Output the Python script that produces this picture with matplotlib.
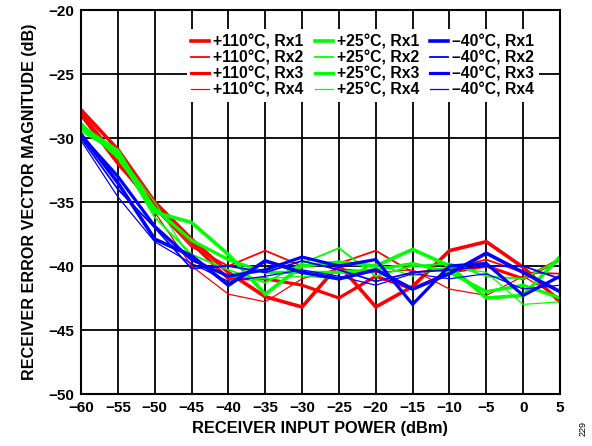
import matplotlib
matplotlib.use("Agg")
import matplotlib.pyplot as plt

plt.rcParams['font.family'] = ['Liberation Sans', 'DejaVu Sans']
plt.rcParams['font.weight'] = 'bold'

# input power (dBm)
power = [-60, -55, -50, -45, -40, -35, -30, -25, -20, -15, -10, -5, 0, 5]

# EVM (dB), +110 C
hot_rx1 = [-27.8, -30.9, -35.0, -37.9, -40.5, -42.4, -43.2, -39.9, -43.2, -41.6, -38.8, -38.1, -40.1, -42.8]
hot_rx2 = [-28.0, -31.5, -35.5, -38.5, -40.0, -38.8, -40.0, -39.8, -38.8, -40.5, -40.2, -39.5, -40.5, -40.6]
hot_rx3 = [-28.2, -32.0, -35.3, -38.2, -41.0, -41.0, -41.5, -42.5, -40.8, -41.8, -40.5, -40.0, -41.0, -39.5]
hot_rx4 = [-27.9, -31.8, -35.8, -40.0, -42.2, -42.8, -41.0, -40.2, -40.5, -40.3, -41.8, -42.3, -40.8, -42.5]

# +25 C
room_rx1 = [-29.1, -31.0, -35.8, -36.6, -39.1, -42.2, -40.0, -39.7, -40.0, -38.7, -40.0, -42.5, -42.3, -39.3]
room_rx2 = [-29.3, -31.3, -36.2, -39.1, -40.3, -41.3, -39.8, -38.6, -40.8, -40.0, -39.8, -40.8, -41.0, -39.5]
room_rx3 = [-28.9, -31.5, -35.5, -38.0, -39.5, -40.5, -40.5, -40.5, -40.3, -39.8, -40.5, -42.0, -41.5, -42.5]
room_rx4 = [-29.5, -31.2, -35.0, -39.5, -40.8, -41.0, -40.8, -41.0, -39.8, -40.8, -40.0, -40.5, -43.0, -42.8]

# -40 C
cold_rx1 = [-29.7, -33.5, -37.9, -39.2, -41.5, -39.6, -40.5, -41.0, -40.3, -41.8, -40.6, -39.0, -40.5, -42.0]
cold_rx2 = [-30.0, -34.0, -37.0, -40.2, -40.0, -40.5, -39.6, -40.3, -41.2, -40.5, -40.3, -40.0, -40.0, -41.0]
cold_rx3 = [-29.8, -33.0, -36.9, -39.5, -40.8, -40.3, -39.3, -40.0, -39.5, -43.0, -40.0, -39.8, -42.3, -40.8]
cold_rx4 = [-30.2, -34.6, -38.1, -39.8, -41.2, -40.8, -40.3, -40.8, -41.5, -40.6, -41.0, -40.6, -41.8, -41.5]

temps = ['+110°C', '+25°C', '\u201340°C']
colors = ['#ff0000', '#00ff00', '#0000ff']
widths = [2.6, 1.3, 2.3, 0.9]
series = [
    [hot_rx1, hot_rx2, hot_rx3, hot_rx4],
    [room_rx1, room_rx2, room_rx3, room_rx4],
    [cold_rx1, cold_rx2, cold_rx3, cold_rx4],
]

fig = plt.figure(figsize=(5.92, 4.46), dpi=100)
ax = fig.add_axes([81 / 592, 52 / 446, 479 / 592, 384 / 446])

for t, c, group in zip(temps, colors, series):
    for i, vals in enumerate(group):
        ax.plot(power, vals, color=c, lw=widths[i], label=f'{t}, Rx{i + 1}',
                solid_joinstyle='miter')

ax.set_xlim(-60, 5)
ax.set_ylim(-50, -20)
ax.set_xticks(range(-60, 6, 5))
ax.set_yticks(range(-50, -19, 5))
ax.grid(True, color='black', lw=1.3)
ax.tick_params(length=0, labelsize=11, pad=5)
for s in ax.spines.values():
    s.set_linewidth(1.5)

ax.set_xlabel('RECEIVER INPUT POWER (dBm)', fontsize=11.8, fontweight='bold', labelpad=4)
ax.set_ylabel('RECEIVER ERROR VECTOR MAGNITUDE (dB)', fontsize=11.6, fontweight='bold', labelpad=8)

leg = ax.legend(ncol=3, loc='upper right', bbox_to_anchor=(0.972, 0.97),
                fontsize=11.3, handlelength=1.15, handletextpad=0.25,
                columnspacing=0.7, labelspacing=0.07, borderpad=0.3,
                frameon=True, fancybox=False, framealpha=1,
                edgecolor='none', facecolor='white')
for txt in leg.get_texts():
    txt.set_fontweight('bold')

fig.text(0.985, 0.04, '229', rotation=90, fontsize=6.5, fontweight='normal',
         ha='center', va='center')

fig.savefig('out.png', dpi=100)
